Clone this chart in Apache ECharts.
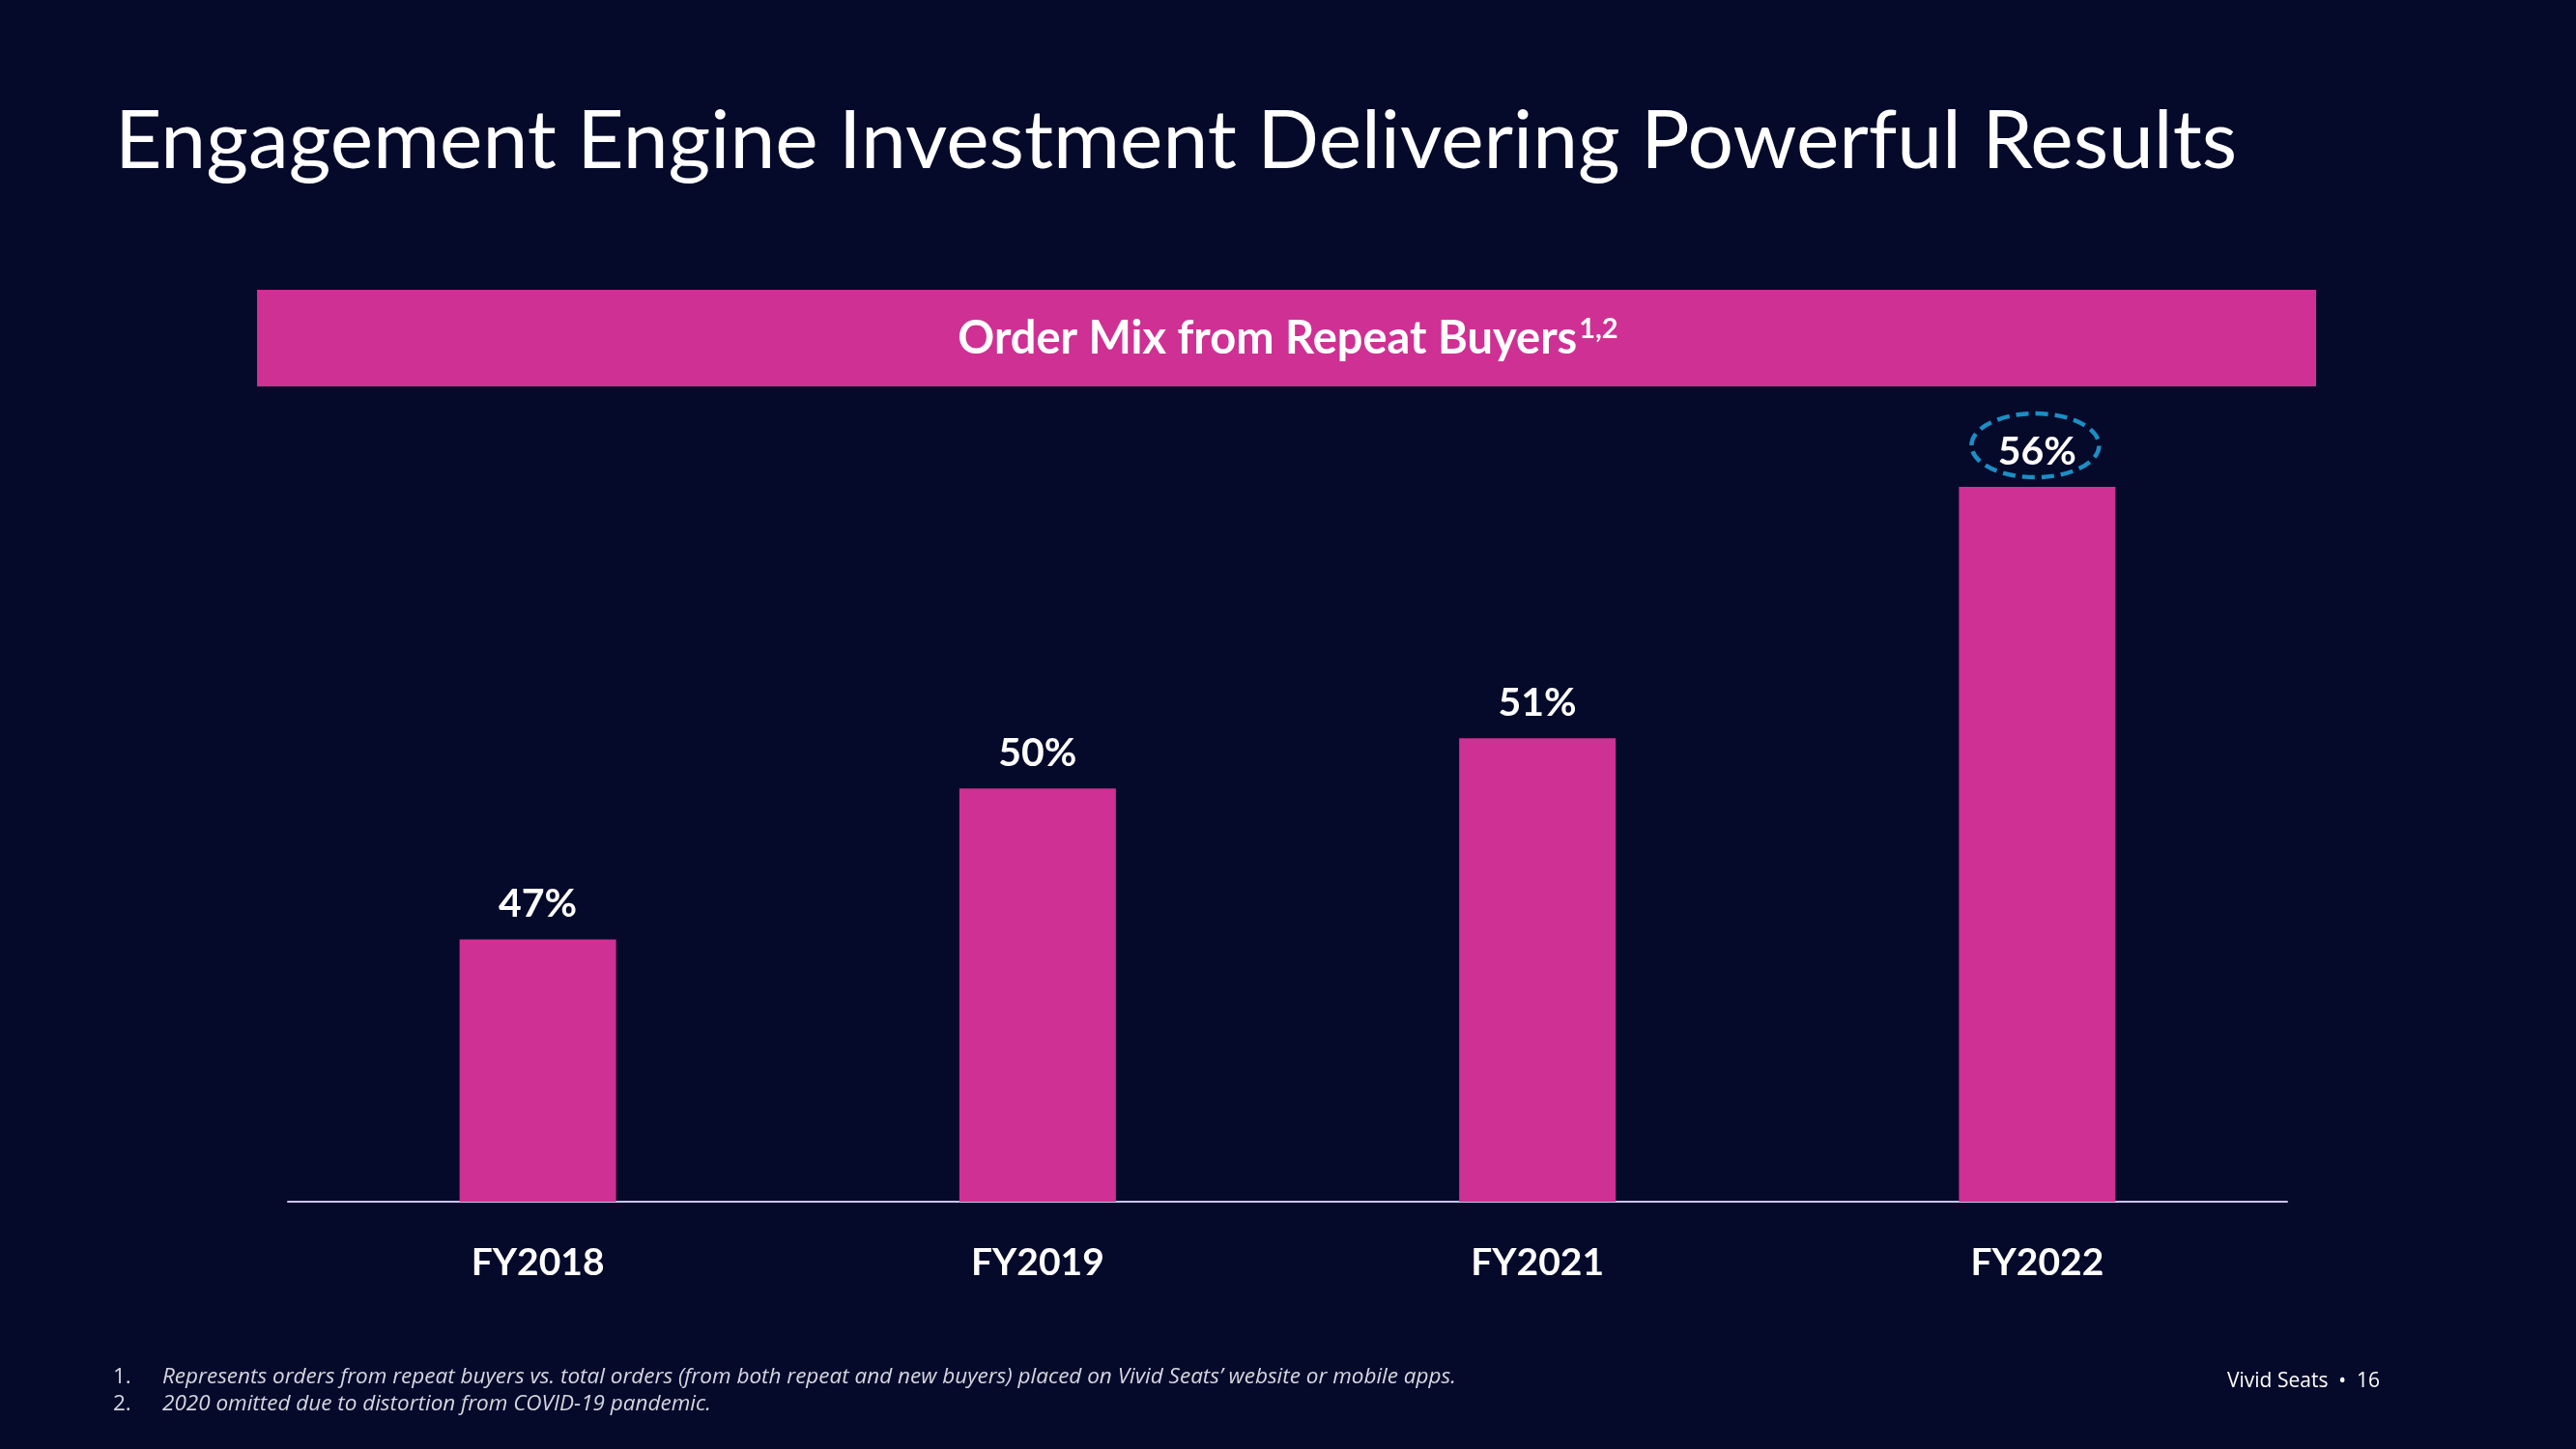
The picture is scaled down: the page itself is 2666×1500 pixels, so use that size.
<!DOCTYPE html>
<html>
<head>
<meta charset="utf-8">
<script src="https://cdn.jsdelivr.net/npm/echarts@6/dist/echarts.min.js"></script>
<style>
html,body{margin:0;padding:0;background:#050a2b;}
#c{width:2666px;height:1500px;}
</style>
</head>
<body>
<div id="c"></div>
<script>
const categories = ['FY2018', 'FY2019', 'FY2021', 'FY2022'];
const orderMix = [47, 50, 51, 56];
const highlightIndex = 3;
const titleText = 'Engagement Engine Investment Delivering Powerful Results';
const bannerText = 'Order Mix from Repeat Buyers';
const bannerSup = '1,2';
const footnotes = [
  'Represents orders from repeat buyers vs. total orders (from both repeat and new buyers) placed on Vivid Seats\u2019 website or mobile apps.',
  '2020 omitted due to distortion from COVID-19 pandemic.'
];
const footerText = 'Vivid Seats  \u2022  16';

const BG = '#050a2b';
const PINK = '#cf3093';
const BLUE = '#1b8ec4';

const chart = echarts.init(document.getElementById('c'));

const graphics = [
  { type: 'rect', shape: { x: 266, y: 300, width: 2131, height: 100 }, style: { fill: PINK }, z: 1 },
  { type: 'text', left: 'center', top: 326, z: 2,
    style: {
      text: '{a|' + bannerText + '}{s|' + bannerSup + '}',
      rich: {
        a: { fontFamily: 'Lato', fontWeight: 'bold', fontSize: 47, fill: '#fff', color: '#fff' },
        s: { fontFamily: 'Lato', fontWeight: 'bold', fontSize: 29, fill: '#fff', color: '#fff', padding: [0, 0, 21, 2] }
      }
    }
  },
  { type: 'text', left: 117, top: 1414, style: { text: '1.', font: '22.5px "Open Sans"', fill: '#d6d6e0' } },
  { type: 'text', left: 168, top: 1414, style: { text: footnotes[0], font: 'italic 22.5px "Open Sans"', fill: '#d6d6e0' } },
  { type: 'text', left: 117, top: 1442, style: { text: '2.', font: '22.5px "Open Sans"', fill: '#d6d6e0' } },
  { type: 'text', left: 168, top: 1442, style: { text: footnotes[1], font: 'italic 22.5px "Open Sans"', fill: '#d6d6e0' } },
  { type: 'text', left: 2305, top: 1420, style: { text: footerText, font: '21px "Open Sans"', fill: '#ffffff' } }
];

chart.setOption({
  backgroundColor: BG,
  animation: false,
  title: {
    text: titleText,
    left: 114,
    top: 100,
    textStyle: { color: '#ffffff', fontFamily: 'Lato', fontWeight: 'normal', fontSize: 84 }
  },
  grid: { left: 298, right: 299, top: 400, bottom: 256, containLabel: false },
  xAxis: {
    type: 'category',
    data: categories,
    axisLine: { show: true, lineStyle: { color: '#c9c4ef', width: 2 } },
    axisTick: { show: false },
    axisLabel: { color: '#ffffff', fontFamily: 'Lato', fontWeight: 'bold', fontSize: 39, margin: 44 }
  },
  yAxis: {
    type: 'value',
    min: 41.78,
    max: 58.0,
    show: false,
    splitLine: { show: false }
  },
  series: [{
    type: 'bar',
    data: orderMix,
    barWidth: 162,
    itemStyle: { color: PINK },
    label: {
      show: true,
      position: 'top',
      distance: 16,
      formatter: '{c}%',
      color: '#ffffff',
      fontFamily: 'Lato',
      fontWeight: 'bold',
      fontSize: 41
    }
  }],
  graphic: graphics
});

// dashed ellipse around the highlighted value label, positioned from the data
const p = chart.convertToPixel({ gridIndex: 0 }, [categories[highlightIndex], orderMix[highlightIndex]]);
graphics.push({
  type: 'ellipse',
  shape: { cx: p[0] - 2, cy: p[1] - 43, rx: 66, ry: 33 },
  style: { fill: 'none', stroke: BLUE, lineWidth: 4.5, lineDash: [13, 7] },
  z: 5
});
chart.setOption({ graphic: graphics });
</script>
</body>
</html>
